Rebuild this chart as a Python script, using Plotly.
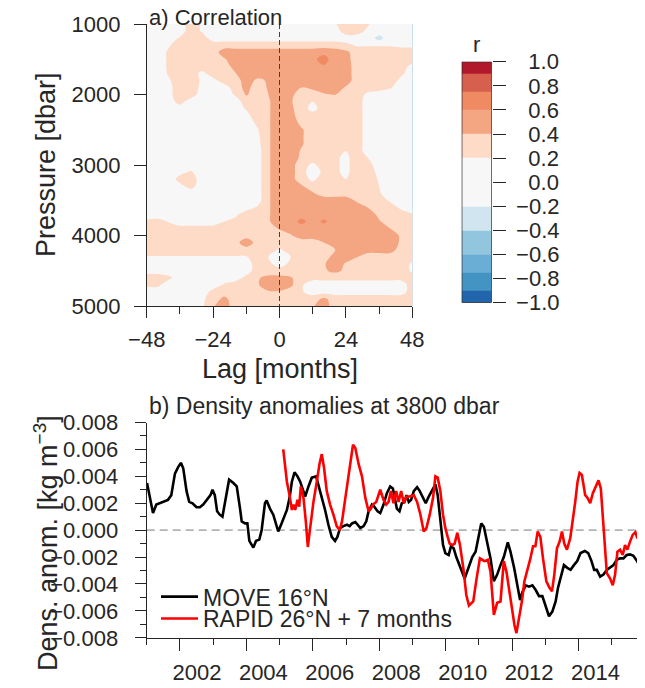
import plotly.graph_objects as go

# The page body has an 8 px default margin: the figure is sized to fill the
# 645x688 window from that offset, and reference pixel positions are mapped.
OX, OY = 8, 8
FW, FH = 645 - OX, 688 - OY
FONT = "Liberation Sans, Arial, Helvetica, sans-serif"
TXT = "#262626"


def fx(p):
    return (p - OX) / FW


def fy(p):
    return 1 - (p - OY) / FH


# ---------------- panel a: lagged correlation ----------------
lag_months = [-48, -44, -40, -36, -32, -28, -24, -20, -16, -12, -8, -4, 0,
              4, 8, 12, 16, 20, 24, 28, 32, 36, 40, 44, 48]
pressure_dbar = [1000, 1100, 1200, 1300, 1400, 1500, 1600, 1700, 1800, 1900,
                 2000, 2100, 2200, 2300, 2400, 2500, 2600, 2700, 2800, 2900,
                 3000, 3100, 3200, 3300, 3400, 3500, 3600, 3700, 3800, 3900,
                 4000, 4100, 4200, 4300, 4400, 4500, 4600, 4700, 4800, 4900, 5000]
correlation = [
    [0.1, 0.1, 0.1, 0.1, 0.3, 0.18, 0.1, 0.1, 0.1, 0.1, 0.1, 0.1, 0.1, 0.1, 0.1, 0.1, 0.1, 0.18, 0.3, 0.3, 0.22, 0.1, 0.1, 0.1, 0.1],
    [0.1, 0.1, 0.1, 0.1, 0.3, 0.18, 0.1, 0.1, 0.1, 0.1, 0.1, 0.1, 0.1, 0.1, 0.1, 0.1, 0.1, 0.1, 0.3, 0.3, 0.15, 0.1, 0.1, 0.1, 0.1],
    [0.1, 0.1, 0.1, 0.22, 0.3, 0.3, 0.1, 0.1, 0.1, 0.1, 0.1, 0.1, 0.1, 0.1, 0.1, 0.1, 0.1, 0.1, 0.1, 0.1, 0.1, -0.38, 0.1, 0.1, 0.1],
    [0.1, 0.1, 0.18, 0.3, 0.3, 0.3, 0.3, 0.3, 0.3, 0.3, 0.3, 0.3, 0.3, 0.3, 0.3, 0.3, 0.3, 0.3, 0.25, 0.18, 0.18, 0.18, 0.18, 0.15, 0.15],
    [0.1, 0.1, 0.23, 0.3, 0.3, 0.3, 0.3, 0.5, 0.5, 0.5, 0.5, 0.5, 0.5, 0.5, 0.5, 0.5, 0.55, 0.5, 0.45, 0.3, 0.3, 0.3, 0.3, 0.3, 0.3],
    [0.1, 0.1, 0.23, 0.3, 0.3, 0.3, 0.3, 0.38, 0.5, 0.5, 0.5, 0.5, 0.5, 0.5, 0.5, 0.55, 0.68, 0.5, 0.47, 0.3, 0.3, 0.3, 0.3, 0.3, 0.3],
    [0.1, 0.1, 0.23, 0.3, 0.3, 0.3, 0.3, 0.3, 0.48, 0.5, 0.5, 0.5, 0.5, 0.5, 0.5, 0.5, 0.58, 0.5, 0.5, 0.3, 0.3, 0.3, 0.3, 0.3, 0.13],
    [0.1, 0.1, 0.22, 0.3, 0.3, 0.15, 0.3, 0.3, 0.39, 0.5, 0.5, 0.5, 0.5, 0.5, 0.5, 0.5, 0.5, 0.5, 0.5, 0.3, 0.3, 0.3, 0.3, 0.24, 0.1],
    [0.1, 0.1, 0.18, 0.3, 0.3, 0.17, 0.14, 0.3, 0.3, 0.5, 0.36, 0.42, 0.5, 0.5, 0.5, 0.5, 0.5, 0.5, 0.5, 0.3, 0.3, 0.3, 0.3, 0.15, 0.1],
    [0.1, 0.1, 0.15, 0.3, 0.3, 0.15, 0.1, 0.1, 0.3, 0.46, 0.3, 0.42, 0.5, 0.5, 0.4, 0.45, 0.5, 0.5, 0.38, 0.3, 0.3, 0.3, 0.22, 0.1, 0.1],
    [0.1, 0.1, 0.15, 0.3, 0.3, 0.1, 0.1, 0.1, 0.22, 0.42, 0.3, 0.4, 0.5, 0.45, 0.3, 0.3, 0.38, 0.41, 0.3, 0.3, 0.15, 0.1, 0.1, 0.1, 0.1],
    [0.1, 0.1, 0.1, 0.28, 0.1, 0.1, 0.1, 0.1, 0.1, 0.3, 0.3, 0.38, 0.5, 0.42, 0.3, 0.2, 0.3, 0.3, 0.3, 0.3, 0.1, 0.1, 0.1, 0.1, 0.1],
    [0.1, 0.1, 0.1, 0.1, 0.1, 0.1, 0.1, 0.1, 0.1, 0.22, 0.3, 0.38, 0.5, 0.44, 0.3, 0.12, 0.3, 0.3, 0.3, 0.3, 0.1, 0.1, 0.1, 0.1, 0.1],
    [0.1, 0.1, 0.1, 0.1, 0.1, 0.1, 0.1, 0.1, 0.1, 0.14, 0.3, 0.38, 0.5, 0.47, 0.3, 0.3, 0.3, 0.3, 0.3, 0.3, 0.1, 0.1, 0.1, 0.1, 0.1],
    [0.1, 0.1, 0.1, 0.1, 0.1, 0.1, 0.1, 0.1, 0.1, 0.1, 0.24, 0.38, 0.5, 0.5, 0.35, 0.3, 0.3, 0.3, 0.3, 0.3, 0.1, 0.1, 0.1, 0.1, 0.1],
    [0.1, 0.1, 0.1, 0.1, 0.1, 0.1, 0.1, 0.1, 0.1, 0.1, 0.18, 0.38, 0.5, 0.5, 0.42, 0.3, 0.3, 0.3, 0.3, 0.3, 0.1, 0.1, 0.1, 0.1, 0.1],
    [0.1, 0.1, 0.1, 0.1, 0.1, 0.1, 0.1, 0.1, 0.1, 0.1, 0.15, 0.38, 0.5, 0.5, 0.42, 0.3, 0.3, 0.3, 0.3, 0.3, 0.1, 0.1, 0.1, 0.1, 0.1],
    [0.1, 0.1, 0.1, 0.1, 0.1, 0.1, 0.1, 0.1, 0.1, 0.1, 0.13, 0.38, 0.5, 0.5, 0.42, 0.3, 0.3, 0.3, 0.3, 0.3, 0.1, 0.1, 0.1, 0.1, 0.1],
    [0.1, 0.1, 0.1, 0.1, 0.1, 0.1, 0.1, 0.1, 0.1, 0.1, 0.1, 0.38, 0.5, 0.5, 0.38, 0.3, 0.3, 0.24, 0.2, 0.3, 0.1, 0.1, 0.1, 0.1, 0.1],
    [0.1, 0.1, 0.1, 0.1, 0.1, 0.1, 0.1, 0.1, 0.1, 0.1, 0.1, 0.38, 0.5, 0.5, 0.36, 0.3, 0.3, 0.24, 0.15, 0.3, 0.2, 0.1, 0.1, 0.1, 0.1],
    [0.1, 0.1, 0.1, 0.1, 0.1, 0.1, 0.1, 0.1, 0.1, 0.1, 0.1, 0.38, 0.5, 0.47, 0.3, 0.15, 0.3, 0.24, 0.15, 0.3, 0.27, 0.1, 0.1, 0.1, 0.1],
    [0.1, 0.1, 0.1, 0.15, 0.22, 0.1, 0.1, 0.1, 0.1, 0.1, 0.1, 0.38, 0.5, 0.47, 0.3, 0.05, 0.26, 0.24, 0.15, 0.3, 0.3, 0.14, 0.1, 0.1, 0.1],
    [0.1, 0.1, 0.1, 0.26, 0.3, 0.1, 0.1, 0.1, 0.1, 0.1, 0.1, 0.38, 0.5, 0.47, 0.3, 0.15, 0.3, 0.26, 0.2, 0.3, 0.3, 0.18, 0.1, 0.1, 0.1],
    [0.1, 0.1, 0.1, 0.15, 0.26, 0.1, 0.1, 0.1, 0.1, 0.1, 0.1, 0.38, 0.5, 0.5, 0.42, 0.3, 0.3, 0.3, 0.3, 0.3, 0.3, 0.2, 0.1, 0.1, 0.1],
    [0.1, 0.1, 0.1, 0.1, 0.1, 0.1, 0.1, 0.1, 0.1, 0.1, 0.1, 0.38, 0.5, 0.5, 0.5, 0.42, 0.3, 0.3, 0.3, 0.3, 0.3, 0.22, 0.1, 0.1, 0.1],
    [0.1, 0.1, 0.1, 0.1, 0.1, 0.1, 0.1, 0.1, 0.1, 0.1, 0.1, 0.38, 0.5, 0.5, 0.5, 0.5, 0.5, 0.5, 0.5, 0.36, 0.3, 0.3, 0.17, 0.1, 0.1],
    [0.1, 0.1, 0.1, 0.1, 0.1, 0.1, 0.1, 0.1, 0.1, 0.1, 0.22, 0.38, 0.5, 0.5, 0.5, 0.5, 0.5, 0.5, 0.5, 0.5, 0.39, 0.3, 0.3, 0.15, 0.1],
    [0.1, 0.1, 0.1, 0.1, 0.1, 0.1, 0.1, 0.1, 0.15, 0.3, 0.3, 0.38, 0.5, 0.5, 0.5, 0.5, 0.5, 0.5, 0.5, 0.5, 0.5, 0.35, 0.3, 0.3, 0.22],
    [0.24, 0.26, 0.19, 0.15, 0.15, 0.15, 0.16, 0.2, 0.26, 0.3, 0.3, 0.38, 0.5, 0.5, 0.66, 0.5, 0.64, 0.5, 0.5, 0.5, 0.5, 0.42, 0.3, 0.3, 0.3],
    [0.3, 0.3, 0.26, 0.23, 0.23, 0.23, 0.23, 0.26, 0.3, 0.3, 0.3, 0.3, 0.42, 0.5, 0.5, 0.5, 0.5, 0.5, 0.5, 0.5, 0.5, 0.5, 0.4, 0.3, 0.3],
    [0.3, 0.3, 0.3, 0.3, 0.3, 0.3, 0.3, 0.3, 0.3, 0.3, 0.3, 0.3, 0.3, 0.38, 0.5, 0.5, 0.5, 0.5, 0.5, 0.5, 0.5, 0.5, 0.5, 0.37, 0.3],
    [0.3, 0.3, 0.3, 0.3, 0.3, 0.3, 0.3, 0.3, 0.3, 0.56, 0.3, 0.3, 0.3, 0.3, 0.3, 0.3, 0.4, 0.5, 0.5, 0.5, 0.5, 0.5, 0.5, 0.37, 0.3],
    [0.3, 0.3, 0.3, 0.3, 0.3, 0.3, 0.3, 0.3, 0.3, 0.3, 0.3, 0.3, 0.18, 0.3, 0.3, 0.3, 0.3, 0.39, 0.5, 0.5, 0.5, 0.5, 0.5, 0.3, 0.3],
    [0.19, 0.19, 0.19, 0.19, 0.19, 0.19, 0.19, 0.19, 0.19, 0.19, 0.3, 0.2, 0.05, 0.2, 0.3, 0.3, 0.3, 0.47, 0.5, 0.41, 0.3, 0.3, 0.3, 0.3, 0.3],
    [0.1, 0.1, 0.1, 0.1, 0.1, 0.1, 0.1, 0.1, 0.1, 0.1, 0.3, 0.25, 0.1, 0.25, 0.3, 0.3, 0.38, 0.5, 0.38, 0.3, 0.3, 0.3, 0.3, 0.3, 0.17],
    [0.12, 0.12, 0.1, 0.1, 0.1, 0.1, 0.1, 0.1, 0.1, 0.1, 0.3, 0.3, 0.3, 0.3, 0.3, 0.3, 0.37, 0.45, 0.36, 0.3, 0.3, 0.3, 0.3, 0.3, 0.17],
    [0.3, 0.3, 0.24, 0.1, 0.1, 0.1, 0.1, 0.1, 0.1, 0.26, 0.38, 0.45, 0.45, 0.42, 0.3, 0.26, 0.26, 0.26, 0.26, 0.26, 0.26, 0.26, 0.26, 0.26, 0.3],
    [0.24, 0.24, 0.1, 0.1, 0.1, 0.1, 0.1, 0.22, 0.3, 0.3, 0.38, 0.5, 0.5, 0.45, 0.22, 0.1, 0.1, 0.1, 0.1, 0.1, 0.1, 0.1, 0.1, 0.1, 0.3],
    [0.1, 0.1, 0.1, 0.1, 0.1, 0.1, 0.26, 0.3, 0.3, 0.3, 0.3, 0.38, 0.38, 0.3, 0.22, 0.12, 0.12, 0.12, 0.12, 0.12, 0.12, 0.12, 0.12, 0.12, 0.3],
    [0.1, 0.1, 0.1, 0.1, 0.1, 0.16, 0.3, 0.45, 0.3, 0.3, 0.3, 0.3, 0.3, 0.3, 0.3, 0.3, 0.45, 0.3, 0.3, 0.3, 0.3, 0.3, 0.3, 0.3, 0.3],
    [0.1, 0.1, 0.1, 0.1, 0.1, 0.16, 0.38, 0.5, 0.3, 0.3, 0.3, 0.3, 0.3, 0.3, 0.3, 0.38, 0.5, 0.3, 0.3, 0.3, 0.3, 0.3, 0.3, 0.3, 0.3],
]

lag_ticks = [-48, -24, 0, 24, 48]
lag_ticklabels = ["\u221248", "\u221224", "0", "24", "48"]
lag_minor = [-36, -12, 12, 36]
pressure_ticks = [1000, 2000, 3000, 4000, 5000]

# colour classes of r (uneven levels as in the reference colour bar)
r_levels = [-1.0, -0.9, -0.75, -0.6, -0.4, -0.2, 0.2, 0.4, 0.6, 0.75, 0.9, 1.0]
r_colors = ["#2166ac", "#4393c3", "#6aaed6", "#92c5de", "#d1e5f0", "#f7f7f7",
            "#fddbc7", "#f4a582", "#ef8a62", "#d6604d", "#b2182b"]
r_ticks = [1.0, 0.8, 0.6, 0.4, 0.2, 0.0, -0.2, -0.4, -0.6, -0.8, -1.0]
r_ticklabels = ["\u20071.0", "\u20070.8", "\u20070.6", "\u20070.4", "\u20070.2", "\u20070.0",
                "\u22120.2", "\u22120.4", "\u22120.6", "\u22120.8", "\u22121.0"]
r_class = [[0], [1], [2], [3], [4], [5], [6], [7], [8], [9], [10]]

# ---------------- panel b: density anomalies (units of 1e-3 kg m-3) ----------------
move_time = [2001.01, 2001.19, 2001.29, 2001.39, 2001.49, 2001.64, 2001.74, 2001.85, 2001.95, 2002.03,
             2002.10, 2002.20, 2002.28, 2002.38, 2002.50, 2002.60, 2002.70, 2002.80, 2002.92, 2002.98,
             2003.05, 2003.12, 2003.20, 2003.28, 2003.38, 2003.48, 2003.61, 2003.71, 2003.81, 2003.86,
             2003.96, 2004.03, 2004.09, 2004.21, 2004.29, 2004.39, 2004.46, 2004.56, 2004.61, 2004.71,
             2004.81, 2004.91, 2004.96, 2005.06, 2005.16, 2005.22, 2005.30, 2005.37, 2005.45, 2005.54,
             2005.62, 2005.67, 2005.77, 2005.87, 2005.97, 2006.10, 2006.17, 2006.27, 2006.37, 2006.47,
             2006.57, 2006.67, 2006.74, 2006.82, 2006.92, 2007.03, 2007.11, 2007.18, 2007.28, 2007.35,
             2007.43, 2007.53, 2007.61, 2007.68, 2007.78, 2007.85, 2007.95, 2008.03, 2008.13, 2008.23,
             2008.33, 2008.41, 2008.48, 2008.53, 2008.61, 2008.68, 2008.76, 2008.82, 2008.89, 2008.96,
             2009.04, 2009.14, 2009.22, 2009.32, 2009.40, 2009.49, 2009.59, 2009.69, 2009.76, 2009.84,
             2009.92, 2009.99, 2010.09, 2010.16, 2010.24, 2010.32, 2010.42, 2010.57, 2010.70, 2010.80,
             2010.90, 2011.00, 2011.07, 2011.15, 2011.25, 2011.35, 2011.45, 2011.55, 2011.65, 2011.75,
             2011.87, 2011.95, 2012.06, 2012.16, 2012.24, 2012.31, 2012.41, 2012.51, 2012.61, 2012.71,
             2012.81, 2012.91, 2013.01, 2013.11, 2013.21, 2013.31, 2013.38, 2013.46, 2013.56, 2013.66,
             2013.76, 2013.86, 2013.96, 2014.06, 2014.19, 2014.29, 2014.39, 2014.47, 2014.55, 2014.65,
             2014.75, 2014.85, 2014.95, 2015.05, 2015.15, 2015.25, 2015.35, 2015.45, 2015.55, 2015.65,
             2015.76, 2015.83, 2015.88]
move_anom = [3.5, 1.27, 1.9, 2.0, 2.1, 2.25, 2.6, 4.2, 4.7, 5.0,
             4.6, 2.9, 2.1, 2.0, 1.7, 1.7, 1.9, 2.25, 2.6, 3.0,
             2.6, 1.4, 1.15, 1.0, 2.4, 3.75, 3.5, 3.25, 1.6, 0.65,
             0.5, 0.5, -0.8, -1.3, -0.8, -0.7, 0.0, 2.0, 2.2, 1.6,
             1.15, 0.25, -0.1, 0.5, 1.15, 1.5, 2.4, 3.6, 4.3, 4.0,
             3.6, 3.25, 2.5, 3.25, 3.9, 4.0, 3.4, 2.4, 1.5, 0.4,
             -0.5, -0.8, -0.5, 0.15, 0.3, 0.4, 0.3, 0.5, 0.6, 0.4,
             0.15, 0.3, 0.65, 1.4, 1.9, 1.75, 1.4, 1.27, 1.9, 2.75,
             3.25, 3.1, 2.25, 1.6, 1.4, 2.0, 2.1, 2.6, 2.1, 2.25,
             2.9, 3.2, 2.9, 2.4, 2.0, 2.5, 2.9, 3.4, 2.6, 0.65,
             -1.1, -1.7, -1.85, -1.2, -1.35, -2.0, -2.7, -3.6, -2.7, -2.0,
             -1.6, -0.5, 0.5, 0.25, -0.85, -2.1, -3.8, -3.3, -2.6, -2.0,
             -0.9, -1.6, -2.8, -4.1, -5.2, -4.6, -4.1, -4.2, -4.1, -4.45,
             -4.9, -4.9, -5.7, -6.4, -6.05, -5.3, -4.3, -3.45, -2.6, -2.8,
             -2.95, -2.6, -2.3, -1.7, -1.55, -1.7, -2.3, -2.95, -2.95, -3.45,
             -3.3, -2.95, -2.8, -2.6, -2.2, -2.1, -2.1, -1.85, -1.8, -1.9,
             -2.3, -2.6, -2.45]
rapid_time = [2005.11, 2005.22, 2005.30, 2005.37, 2005.42, 2005.47, 2005.54, 2005.59, 2005.64, 2005.72,
              2005.79, 2005.85, 2005.92, 2006.02, 2006.12, 2006.20, 2006.27, 2006.34, 2006.42, 2006.52,
              2006.62, 2006.72, 2006.81, 2006.88, 2006.98, 2007.08, 2007.15, 2007.21, 2007.28, 2007.38,
              2007.48, 2007.58, 2007.68, 2007.75, 2007.81, 2007.91, 2008.03, 2008.13, 2008.21, 2008.28,
              2008.35, 2008.43, 2008.51, 2008.58, 2008.66, 2008.74, 2008.82, 2008.92, 2009.04, 2009.14,
              2009.24, 2009.34, 2009.42, 2009.52, 2009.62, 2009.69, 2009.76, 2009.84, 2009.92, 2009.99,
              2010.06, 2010.12, 2010.20, 2010.27, 2010.35, 2010.43, 2010.53, 2010.62, 2010.70, 2010.83,
              2010.93, 2011.03, 2011.10, 2011.17, 2011.27, 2011.35, 2011.45, 2011.55, 2011.65, 2011.75,
              2011.83, 2011.93, 2012.00, 2012.07, 2012.13, 2012.21, 2012.30, 2012.37, 2012.45, 2012.55,
              2012.63, 2012.70, 2012.77, 2012.85, 2012.93, 2013.03, 2013.13, 2013.20, 2013.27, 2013.35,
              2013.43, 2013.50, 2013.57, 2013.65, 2013.75, 2013.83, 2013.90, 2013.97, 2014.03, 2014.10,
              2014.20, 2014.27, 2014.35, 2014.43, 2014.53, 2014.60, 2014.67, 2014.73, 2014.80, 2014.85,
              2014.95, 2015.03, 2015.10, 2015.17, 2015.25, 2015.33, 2015.40, 2015.47, 2015.55, 2015.63,
              2015.71, 2015.77, 2015.85, 2015.92, 2015.99]
rapid_anom = [6.0, 3.6, 2.6, 1.5, 1.9, 1.5, 2.25, 1.75, 3.25, 2.4,
              0.65, -1.25, 0.15, 2.1, 3.6, 4.9, 5.65, 4.6, 2.9, 1.9,
              1.15, 0.3, 0.0, 0.65, 2.4, 4.1, 5.6, 6.35, 6.1, 4.9,
              4.0, 2.4, 1.4, 1.6, 1.9, 2.1, 3.0, 2.25, 1.9, 2.1,
              2.9, 2.0, 2.9, 2.1, 2.9, 2.0, 2.5, 2.5, 2.6, 2.1,
              1.15, -0.1, 0.15, 1.15, 2.4, 4.0, 3.9, 2.9, 1.15, 0.15,
              -0.5, -1.0, -1.1, -1.0, -0.2, -1.1, -2.8, -4.8, -5.6, -5.3,
              -3.6, -2.1, -2.2, -2.3, -2.2, -3.1, -6.3, -5.4, -5.3, -2.3,
              -3.1, -4.8, -5.9, -7.05, -7.65, -6.55, -5.2, -3.8, -3.1, -2.1,
              -1.2, -1.2, -0.1, -0.5, -2.1, -3.8, -4.3, -4.55, -3.3, -1.35,
              -0.85, -0.1, -1.0, -1.45, -0.6, 0.65, 2.1, 3.6, 4.25, 4.1,
              2.6, 2.4, 2.0, 2.75, 3.25, 3.7, 3.1, 1.15, -1.35, -3.2,
              -3.6, -4.1, -3.3, -1.6, -1.45, -1.85, -1.1, -1.45, -0.85, -0.35,
              -0.15, -0.6, -0.2, -0.8, -1.85]

year_ticks = [2002, 2004, 2006, 2008, 2010, 2012, 2014, 2016]
year_ticklabels = ["2002", "2004", "2006", "2008", "2010", "2012", "2014", "\u00a0"]
year_minor = [2001, 2003, 2005, 2007, 2009, 2011, 2013, 2015]
anom_ticks = [8, 6, 4, 2, 0, -2, -4, -6, -8]
anom_ticklabels = ["0.008", "0.006", "0.004", "0.002", "0.000",
                   "\u22120.002", "\u22120.004", "\u22120.006", "\u22120.008"]
anom_minor = [7, 5, 3, 1, -1, -3, -5, -7]

# ---------------- colour scales ----------------
zlo, zhi = -1.025, 1.025


def spos(v):
    return (v - zlo) / (zhi - zlo)


contour_scale = []
for i, c in enumerate(r_colors):
    a = 0.0 if i == 0 else spos(r_levels[i])
    b = 1.0 if i == len(r_colors) - 1 else spos(r_levels[i + 1])
    contour_scale += [[a, c], [b, c]]

n = len(r_colors)
bar_scale = []
for i, c in enumerate(r_colors):
    bar_scale += [[i / n, c], [(i + 1) / n, c]]

fig = go.Figure()

fig.add_trace(go.Contour(
    x=lag_months, y=pressure_dbar, z=correlation, xaxis="x", yaxis="y",
    autocontour=False,
    contours=dict(start=-1, end=1, size=0.05, coloring="fill", showlines=False),
    line=dict(width=0, smoothing=1),
    colorscale=contour_scale, zmin=zlo, zmax=zhi, showscale=False,
    hoverinfo="skip", showlegend=False,
))

fig.add_trace(go.Heatmap(
    x=[0, 1], y=r_levels, z=r_class, xaxis="x3", yaxis="y3",
    colorscale=bar_scale, zmin=-0.5, zmax=n - 0.5, showscale=False,
    hoverinfo="skip", showlegend=False,
))

fig.add_trace(go.Scatter(
    x=move_time, y=move_anom, xaxis="x2", yaxis="y2", mode="lines",
    line=dict(color="#000000", width=2.6), name="MOVE 16°N", legend="legend",
    showlegend=True,
))
fig.add_trace(go.Scatter(
    x=rapid_time, y=rapid_anom, xaxis="x2", yaxis="y2", mode="lines",
    line=dict(color="#ff0000", width=2.6), name="RAPID 26°N + 7 months", legend="legend2",
    showlegend=True,
))

axis_common = dict(showline=True, linecolor=TXT, linewidth=1.3, ticks="outside",
                   tickcolor=TXT, tickwidth=1.3, showgrid=False, zeroline=False,
                   automargin=False,
                   tickfont=dict(size=22, color=TXT, family=FONT))

leg_common = dict(xanchor="left", yanchor="middle", bgcolor="rgba(0,0,0,0)",
                  borderwidth=0, itemwidth=37, visible=True,
                  font=dict(size=23, color=TXT, family=FONT))

fig.update_layout(
    width=FW, height=FH,
    margin=dict(l=0, r=0, t=0, b=0, pad=0, autoexpand=False),
    paper_bgcolor="white", plot_bgcolor="white",
    font=dict(family=FONT, color=TXT),
    showlegend=True,
    xaxis=dict(domain=[fx(146.7), fx(412.3)], range=[-48, 48], anchor="y",
               tickmode="array", tickvals=lag_ticks, ticktext=lag_ticklabels, ticklen=11,
               ticklabelstandoff=2,
               minor=dict(tickmode="array", tickvals=lag_minor, ticks="outside", ticklen=6.5,
                          tickwidth=1.3, tickcolor=TXT),
               **axis_common),
    yaxis=dict(domain=[fy(306), fy(24)], range=[5000, 1000], anchor="x",
               tickmode="array", tickvals=pressure_ticks, ticklen=11.7,
               ticklabelstandoff=9, **axis_common),
    xaxis2=dict(domain=[fx(146.7), fx(645)], range=[2001, 2016], anchor="y2",
                tickmode="array", tickvals=year_ticks, ticktext=year_ticklabels, ticklen=12.5,
                ticklabelshift=17, ticklabelstandoff=2,
                minor=dict(tickmode="array", tickvals=year_minor, ticks="outside", ticklen=6.5,
                           tickwidth=1.3, tickcolor=TXT),
                **axis_common),
    yaxis2=dict(domain=[fy(637.8), fy(422.5)], range=[-8, 8], anchor="x2",
                tickmode="array", tickvals=anom_ticks, ticktext=anom_ticklabels, ticklen=11,
                ticklabelstandoff=12,
                minor=dict(tickmode="array", tickvals=anom_minor, ticks="outside", ticklen=6,
                           tickwidth=1.3, tickcolor=TXT),
                **axis_common),
    xaxis3=dict(domain=[fx(461.7), fx(491.7)], range=[0, 1], anchor="y3", visible=False,
                automargin=False),
    yaxis3=dict(domain=[fy(302.7), fy(61.7)], range=[-1, 1], anchor="x3", side="right",
                showline=False, ticks="outside", ticklen=13, tickwidth=1.3, tickcolor=TXT,
                tickmode="array", tickvals=r_ticks, ticktext=r_ticklabels,
                ticklabelstandoff=6, showgrid=False, zeroline=False, automargin=False,
                tickfont=dict(size=22, color=TXT, family=FONT)),
    legend=dict(x=fx(156), y=fy(596.7), **leg_common),
    legend2=dict(x=fx(156), y=fy(618.5), **leg_common),
    shapes=[
        dict(type="line", xref="x", yref="y", x0=0, x1=0, y0=1000, y1=5000,
             line=dict(color="#404040", width=1, dash="5px,3px"), layer="above"),
        dict(type="line", xref="x2", yref="y2", x0=2001, x1=2016, y0=0, y1=0,
             line=dict(color="#b3b3b3", width=1.6, dash="8px,5px"), layer="below"),
        dict(type="rect", xref="x3", yref="y3", x0=0, x1=1, y0=-1, y1=1,
             line=dict(color=TXT, width=1.3), layer="above"),
    ],
    annotations=[
        dict(text="a) Correlation", x=fx(147), y=fy(17.2), xref="paper", yref="paper",
             xanchor="left", yanchor="middle", showarrow=False,
             font=dict(size=22, color=TXT, family=FONT)),
        dict(text="Pressure [dbar]", x=fx(46), y=fy(165), xref="paper", yref="paper",
             xanchor="center", yanchor="middle", textangle=-90, showarrow=False,
             font=dict(size=27, color=TXT, family=FONT)),
        dict(text="Lag [months]", x=fx(279.5), y=fy(368.5), xref="paper", yref="paper",
             xanchor="center", yanchor="middle", showarrow=False,
             font=dict(size=27, color=TXT, family=FONT)),
        dict(text="r", x=fx(476.7), y=fy(44), xref="paper", yref="paper",
             xanchor="center", yanchor="middle", showarrow=False,
             font=dict(size=22, color=TXT, family=FONT)),
        dict(text="b) Density anomalies at 3800 dbar", x=fx(147), y=fy(406),
             xref="paper", yref="paper", xanchor="left", yanchor="middle", showarrow=False,
             font=dict(size=23, color=TXT, family=FONT)),
        dict(text="Dens. anom. [kg m<sup>\u22123</sup>]", x=fx(46), y=fy(543),
             xref="paper", yref="paper", xanchor="center", yanchor="middle",
             textangle=-90, showarrow=False,
             font=dict(size=27, color=TXT, family=FONT)),
    ],
)

fig.write_html("out.html", config={"displayModeBar": False})
